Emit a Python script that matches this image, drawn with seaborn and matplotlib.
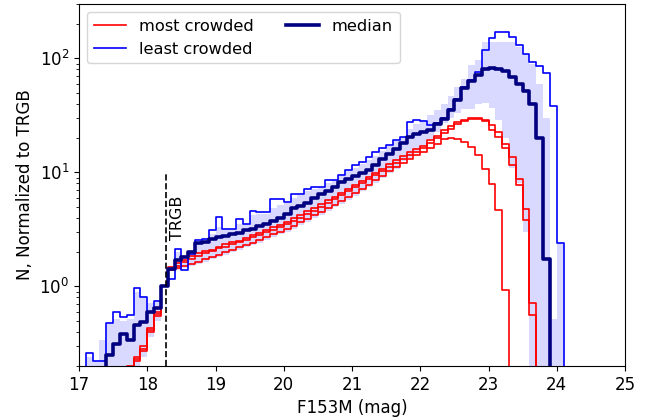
import numpy as np
import matplotlib
matplotlib.use("Agg")
import matplotlib.pyplot as plt
import seaborn as sns

# ---------------- data (bins of 0.1 mag, left edges 17.0 ... 24.1) ----------------
bin_start = 17.0
bin_width = 0.1
n_bins = 72

median_counts = [
    0.01, 0.01, 0.01, 0.01, 0.25, 0.31, 0.38, 0.34, 0.46, 0.49,
    0.59, 0.64, 1.0, 1.43, 1.69, 1.8, 2.0, 2.38, 2.45, 2.6,
    2.7, 2.75, 2.85, 2.95, 3.1, 3.2, 3.35, 3.5, 3.75, 4.0,
    4.3, 4.9, 5.1, 5.4, 5.9, 6.4, 6.9, 7.4, 8.2, 8.8,
    9.3, 9.8, 10.4, 11.5, 13.0, 14.5, 16.0, 18.0, 20.5, 21.5,
    22.5, 23.5, 26.5, 29.5, 35.5, 43, 55, 63, 72, 80,
    82, 81, 78, 68, 60, 52, 40, 20, 1.75, 0.01,
    0.01, 0.01,
]

least_crowded = [
    0.01, 0.26, 0.22, 0.22, 0.48, 0.6, 0.54, 0.56, 0.97, 0.81,
    0.6, 0.75, 1.0, 1.17, 2.14, 1.4, 1.93, 2.55, 2.62, 3.1,
    4.05, 3.2, 3.2, 3.9, 3.55, 4.6, 4.5, 4.5, 5.87, 5.87,
    5.5, 6.5, 6.5, 7.2, 7.4, 7.4, 8.5, 8.5, 9.4, 10.4,
    11.5, 12.3, 13.6, 15.0, 16.2, 17.5, 19.1, 20.4, 27.6, 29.0,
    28.0, 26.0, 27.0, 30.0, 36.0, 44.0, 56.0, 64.0, 76.0, 118.0,
    150, 172, 172, 153, 130, 110, 92.5, 86, 74, 38,
    2.4, 0.01,
]

most_crowded_a = [
    0.01, 0.01, 0.01, 0.01, 0.01, 0.01, 0.01, 0.2, 0.22, 0.27,
    0.40, 0.55, 1.0, 1.47, 1.6, 1.7, 1.85, 1.95, 2.05, 2.1,
    2.2, 2.35, 2.45, 2.5, 2.65, 2.8, 2.95, 3.1, 3.3, 3.45,
    3.7, 3.95, 4.25, 4.55, 4.9, 5.3, 5.7, 6.1, 6.6, 7.2,
    7.8, 8.4, 9.1, 9.9, 10.8, 11.8, 12.9, 14.0, 15.0, 16.0,
    17.2, 19.1, 21.0, 23.4, 25.3, 27.6, 29.0, 30.0, 30.0, 29.0,
    25.8, 22.5, 17.8, 13.6, 8.7, 4.8, 0.71, 0.01, 0.01, 0.01,
    0.01, 0.01,
]

most_crowded_b = [
    0.01, 0.01, 0.01, 0.01, 0.01, 0.01, 0.01, 0.18, 0.24, 0.30,
    0.43, 0.6, 1.0, 1.42, 1.5, 1.62, 1.75, 1.85, 1.95, 2.05,
    2.15, 2.2, 2.35, 2.45, 2.55, 2.7, 2.8, 3.0, 3.15, 3.3,
    3.5, 3.75, 4.0, 4.3, 4.6, 5.0, 5.4, 5.8, 6.3, 6.8,
    7.4, 8.0, 8.7, 9.4, 10.2, 11.1, 12.1, 13.2, 14.3, 15.2,
    16.2, 18.0, 20.0, 22.3, 24.2, 26.5, 28.0, 29.2, 29.5, 28.0,
    23.4, 20.4, 16.2, 11.5, 7.7, 3.8, 0.557, 0.01, 0.01, 0.01,
    0.01, 0.01,
]

most_crowded_c = [
    0.01, 0.01, 0.01, 0.01, 0.01, 0.01, 0.01, 0.19, 0.23, 0.28,
    0.41, 0.57, 1.0, 1.38, 1.45, 1.5, 1.58, 1.65, 1.72, 1.8,
    1.9, 2.0, 2.1, 2.2, 2.3, 2.42, 2.55, 2.7, 2.85, 3.0,
    3.2, 3.4, 3.65, 3.9, 4.2, 4.5, 4.85, 5.2, 5.6, 6.1,
    6.6, 7.2, 7.8, 8.5, 9.3, 10.2, 11.2, 12.2, 13.2, 14.1,
    15.0, 16.2, 17.8, 19.7, 19.9, 19.7, 18.4, 16.6, 14.1, 10.7,
    7.85, 4.7, 0.92, 0.01, 0.01, 0.01, 0.01, 0.01, 0.01, 0.01,
    0.01, 0.01,
]

band_high = [
    0.01, 0.24, 0.22, 0.34, 0.48, 0.52, 0.5, 0.52, 0.9, 0.83,
    0.72, 0.73, 1.0, 1.5, 2.0, 1.9, 2.05, 2.5, 2.6, 2.85,
    3.3, 3.15, 3.1, 3.5, 3.55, 4.2, 4.3, 4.3, 4.9, 5.2,
    5.4, 5.9, 6.3, 6.8, 7.1, 7.5, 8.1, 8.5, 9.3, 10.2,
    11.0, 11.8, 12.8, 14.0, 15.5, 17.0, 19.0, 20.5, 24.0, 26.5,
    29.0, 31.6, 35.0, 40.0, 47.0, 56.0, 66.0, 87.0, 96.0, 139.0,
    139, 139, 139, 139, 125, 110, 90, 60, 30, 0.52,
    2.4, 0.01,
]

band_low = [
    0.01, 0.01, 0.01, 0.01, 0.01, 0.01, 0.01, 0.01, 0.01, 0.24,
    0.36, 0.5, 1.0, 1.35, 1.4, 1.45, 1.52, 1.58, 1.65, 1.72,
    1.8, 1.9, 2.0, 2.1, 2.2, 2.3, 2.4, 2.55, 2.7, 2.85,
    3.0, 3.2, 3.45, 3.7, 3.95, 4.25, 4.6, 4.95, 5.3, 5.75,
    6.2, 6.8, 7.4, 8.1, 8.9, 9.8, 10.8, 12.5, 13.5, 15.0,
    17.0, 19.5, 22.5, 27.0, 30.0, 33.0, 36.0, 36.0, 40.0, 41.0,
    37.0, 28.6, 20.0, 11.0, 8.0, 3.0, 0.01, 0.01, 0.01, 0.01,
    0.01, 0.01,
]

trgb_mag = 18.27
trgb_line_top = 10.0
trgb_text_y = 4.0

x_ticks = [17, 18, 19, 20, 21, 22, 23, 24, 25]

# ---------------- plotting ----------------
plt.rcParams["font.family"] = ["DejaVu Sans"]
fig = plt.figure(figsize=(6.54, 4.19), dpi=100)
ax = fig.add_axes([79 / 654, 53 / 419, 546 / 654, 362 / 419])
ax.set_yscale("log")

edges = np.round(bin_start + bin_width * np.arange(n_bins + 1), 2)


def ext(v):
    return np.append(np.asarray(v, dtype=float), v[-1])


ax.fill_between(edges, ext(band_low), ext(band_high), step="post",
                color="blue", alpha=0.15, linewidth=0)

red_series = [most_crowded_a, most_crowded_b, most_crowded_c]
for i, series in enumerate(red_series):
    sns.lineplot(x=edges, y=ext(series), drawstyle="steps-post", estimator=None,
                 sort=False, color="red", linewidth=1.2, ax=ax,
                 label="most crowded" if i == 0 else "_nolegend_")

sns.lineplot(x=edges, y=ext(least_crowded), drawstyle="steps-post", estimator=None,
             sort=False, color="blue", linewidth=1.2, ax=ax, label="least crowded")
sns.lineplot(x=edges, y=ext(median_counts), drawstyle="steps-post", estimator=None,
             sort=False, color="navy", linewidth=2.6, ax=ax, label="median")

ax.plot([trgb_mag, trgb_mag], [0.2, trgb_line_top], color="black",
        linestyle="--", linewidth=1.2)
ax.text(trgb_mag + 0.18, trgb_text_y, "TRGB", rotation=90, ha="center",
        va="center", fontsize=11.5)

ax.set_xlim(17, 25)
ax.set_ylim(0.2, 300)
ax.set_xticks(x_ticks)
ax.tick_params(labelsize=12)
ax.set_xlabel("F153M (mag)", fontsize=12)
ax.set_ylabel("N, Normalized to TRGB", fontsize=12)

ax.legend(ncol=2, loc="upper left", fontsize=11.7)

fig.savefig("out.png", dpi=100)
